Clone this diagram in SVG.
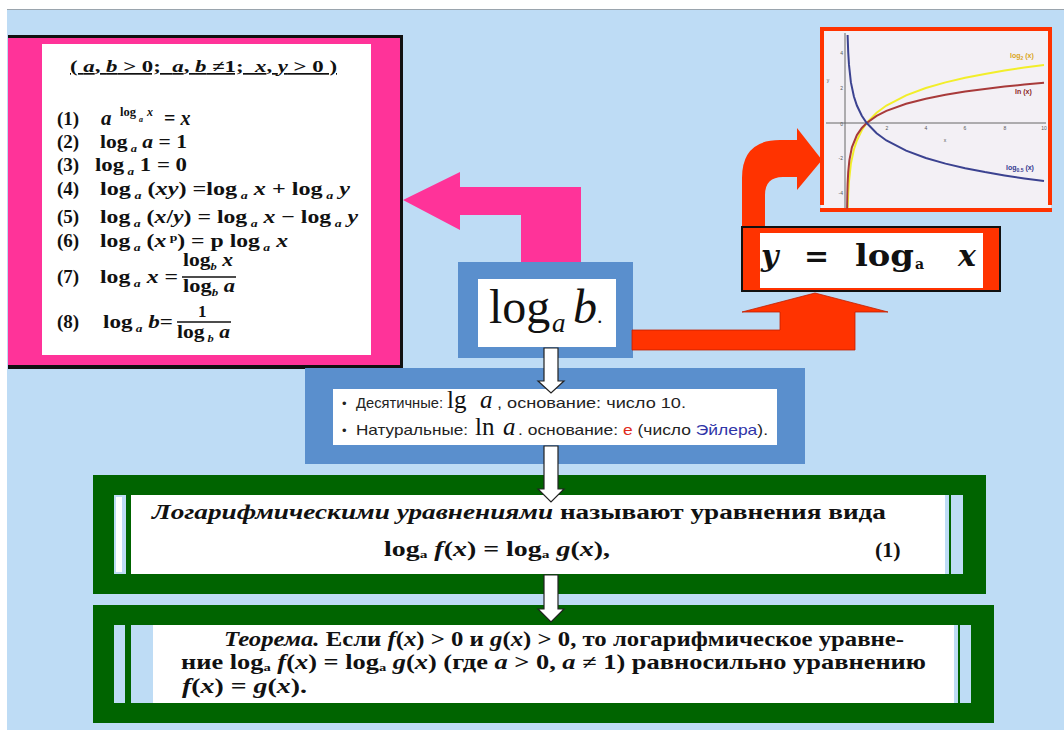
<svg xmlns="http://www.w3.org/2000/svg" width="1064" height="730" viewBox="0 0 1064 730">
<defs>
<style>
.f{font-family:"Liberation Serif","Times New Roman",serif;font-weight:bold;font-size:19px;fill:#111}
.i{font-style:italic}
.s{font-size:11px}
.sans{font-family:"Liberation Sans",Arial,sans-serif;font-size:15px;fill:#222}
.ser{font-family:"Liberation Serif","Times New Roman",serif;fill:#111}
.g{font-family:"Liberation Serif","Times New Roman",serif;font-weight:bold;font-size:20px;fill:#111}
.yl{font-family:"DejaVu Serif","Liberation Serif",serif;font-weight:bold;font-size:30px;fill:#111}
.wa{fill:#fff;stroke:#222;stroke-width:1.2}
.tick{font-family:"Liberation Sans",Arial,sans-serif;font-size:5px;fill:#555}
.lab{font-family:"Liberation Sans",Arial,sans-serif;font-size:7px;font-weight:bold}
.curve{fill:none;stroke-width:2}
</style>
</defs>
<rect width="1064" height="730" fill="#bedcf5"/>
<rect width="1064" height="9" fill="#fff"/>
<rect x="0" y="9" width="7" height="721" fill="#fff"/>
<line x1="7" y1="9.5" x2="1064" y2="9.5" stroke="#9aa4ad" stroke-width="1"/>

<g id="formulas">
<rect x="8" y="35" width="395" height="334" fill="#111"/>
<rect x="8" y="38" width="392" height="327" fill="#ff3399"/>
<rect x="42" y="44" width="329" height="311" fill="#fff"/>
<text class="f" x="70" y="72" style="font-size:17px" textLength="267" lengthAdjust="spacingAndGlyphs" text-decoration="underline">( <tspan class="i">a</tspan>, <tspan class="i">b</tspan> &gt; 0;&#160; <tspan class="i">a</tspan>, <tspan class="i">b</tspan> ≠1;&#160; <tspan class="i">x</tspan>, <tspan class="i">y</tspan> &gt; 0 )</text>
<text class="f" x="57" y="125">(1)</text>
<text class="f i" x="101" y="125" style="font-size:21px">a</text>
<text class="f" x="120" y="116" style="font-size:12px" textLength="16" lengthAdjust="spacingAndGlyphs">log</text>
<text class="f i" x="139" y="122" style="font-size:8px">a</text>
<text class="f i" x="147" y="116" style="font-size:12px">x</text>
<text class="f" x="164" y="125" style="font-size:20px">= <tspan class="i">x</tspan></text>

<text class="f" x="57" y="148">(2)</text>
<text class="f" x="100" y="148" textLength="87" lengthAdjust="spacingAndGlyphs">log<tspan class="s i" dy="4"> a</tspan><tspan class="i" dy="-4"> a</tspan> = 1</text>

<text class="f" x="57" y="171">(3)</text>
<text class="f" x="95" y="171" textLength="92" lengthAdjust="spacingAndGlyphs">log<tspan class="s i" dy="4"> a</tspan><tspan dy="-4"> 1 = 0</tspan></text>

<text class="f" x="57" y="195">(4)</text>
<text class="f" x="100" y="195" textLength="250" lengthAdjust="spacingAndGlyphs">log<tspan class="s i" dy="4"> a</tspan><tspan dy="-4"> (</tspan><tspan class="i">xy</tspan>) =log<tspan class="s i" dy="4"> a</tspan><tspan class="i" dy="-4"> x</tspan> + log<tspan class="s i" dy="4"> a</tspan><tspan class="i" dy="-4"> y</tspan></text>

<text class="f" x="57" y="223">(5)</text>
<text class="f" x="100" y="223" textLength="258" lengthAdjust="spacingAndGlyphs">log<tspan class="s i" dy="4"> a</tspan><tspan dy="-4"> (</tspan><tspan class="i">x</tspan>/<tspan class="i">y</tspan>) = log<tspan class="s i" dy="4"> a</tspan><tspan class="i" dy="-4"> x</tspan> − log<tspan class="s i" dy="4"> a</tspan><tspan class="i" dy="-4"> y</tspan></text>

<text class="f" x="57" y="247">(6)</text>
<text class="f" x="100" y="247" textLength="188" lengthAdjust="spacingAndGlyphs">log<tspan class="s i" dy="4"> a</tspan><tspan dy="-4"> (</tspan><tspan class="i">x</tspan><tspan class="s" dy="-6"> p</tspan><tspan dy="6">) = p log</tspan><tspan class="s i" dy="4"> a</tspan><tspan class="i" dy="-4"> x</tspan></text>

<text class="f" x="57" y="283">(7)</text>
<text class="f" x="100" y="283" textLength="78" lengthAdjust="spacingAndGlyphs">log<tspan class="s i" dy="4"> a</tspan><tspan class="i" dy="-4"> x</tspan> =</text>
<text class="f" x="183" y="266" textLength="50" lengthAdjust="spacingAndGlyphs">log<tspan class="s i" dy="4">b</tspan><tspan class="i" dy="-4"> x</tspan></text>
<line x1="182" y1="277" x2="236" y2="277" stroke="#111" stroke-width="1.5"/>
<text class="f" x="183" y="292" textLength="52" lengthAdjust="spacingAndGlyphs">log<tspan class="s i" dy="4">b</tspan><tspan class="i" dy="-4"> a</tspan></text>

<text class="f" x="57" y="328">(8)</text>
<text class="f" x="103" y="328" textLength="70" lengthAdjust="spacingAndGlyphs">log<tspan class="s i" dy="4"> a</tspan><tspan class="i" dy="-4"> b</tspan>=</text>
<text class="f" x="198" y="317" style="font-size:17px">1</text>
<line x1="177" y1="322" x2="231" y2="322" stroke="#111" stroke-width="1.5"/>
<text class="f" x="177" y="338" textLength="53" lengthAdjust="spacingAndGlyphs">log<tspan class="s i" dy="4"> b</tspan><tspan class="i" dy="-4"> a</tspan></text>
</g>

<g id="graph">
<rect x="821" y="28" width="230" height="182" fill="#f3f0f5"/>
<path d="M822,205 V29 H1050 V205" fill="none" stroke="#ff3300" stroke-width="4"/>
<line x1="820" y1="210" x2="1052" y2="210" stroke="#ff3300" stroke-width="4"/>
<line x1="826" y1="123" x2="1046" y2="123" stroke="#666" stroke-width="1"/>
<line x1="845" y1="33" x2="845" y2="208" stroke="#666" stroke-width="1"/>
<polyline class="curve" stroke="#f2ee2a" points="847.7,207.7 848.2,194 849,181.1 850.9,163.6 853.9,149.5 856.9,140.5 861.8,130.3 866.7,123 876.6,112.8 886.4,105.5 906.1,95.3 925.8,88 945.5,82.4 965.2,77.8 984.9,73.9 1004.6,70.5 1024.3,67.5 1044,64.9"/>
<polyline class="curve" stroke="#a83a3a" points="847.1,208.6 847.3,196.5 847.6,184.3 848.2,172.2 849.4,160.1 851.9,147.3 856.9,135.1 861.8,128 866.7,123 876.6,115.9 886.4,110.9 906.1,103.8 925.8,98.7 945.5,94.8 965.2,91.6 984.9,88.9 1004.6,86.6 1024.3,84.5 1044,82.7"/>
<polyline class="curve" stroke="#3b4290" points="847.6,35 847.7,38.3 848.2,52 849,64.9 850.9,82.4 853.9,96.5 856.9,105.5 861.8,115.7 866.7,123 876.6,133.2 886.4,140.5 906.1,150.7 925.8,158 945.5,163.6 965.2,168.2 984.9,172.1 1004.6,175.5 1024.3,178.5 1044,181.1"/>
<text class="tick" x="887" y="130" text-anchor="middle">2</text>
<text class="tick" x="926" y="130" text-anchor="middle">4</text>
<text class="tick" x="965" y="130" text-anchor="middle">6</text>
<text class="tick" x="1005" y="130" text-anchor="middle">8</text>
<text class="tick" x="1044" y="130" text-anchor="middle">10</text>
<text class="tick" x="843" y="55" text-anchor="end">4</text>
<text class="tick" x="843" y="90" text-anchor="end">2</text>
<text class="tick" x="843" y="126" text-anchor="end">0</text>
<text class="tick" x="843" y="160" text-anchor="end">-2</text>
<text class="tick" x="843" y="195" text-anchor="end">-4</text>
<text class="tick" x="828" y="82" text-anchor="middle">y</text>
<text class="tick" x="945" y="142" text-anchor="middle">x</text>
<text class="lab" x="1010" y="58" fill="#d9a51a">log<tspan font-size="5" dy="1.5">2</tspan><tspan dy="-1.5"> (x)</tspan></text>
<text class="lab" x="1015" y="94" fill="#8b1f1f">ln (x)</text>
<text class="lab" x="1006" y="170" fill="#34388f">log<tspan font-size="5" dy="1.5">0.5</tspan><tspan dy="-1.5"> (x)</tspan></text>
</g>

<g id="ylog">
<rect x="741" y="226" width="260" height="66" fill="#111"/>
<rect x="743" y="228" width="256" height="62" fill="#ff3300"/>
<rect x="760" y="233" width="223" height="55" fill="#fff"/>
<text class="yl i" x="761" y="266">y</text>
<text class="yl" x="804" y="266">=</text>
<text class="yl" x="855" y="266" textLength="59" lengthAdjust="spacingAndGlyphs">log</text>
<text class="yl" x="915" y="269" style="font-size:14px">a</text>
<text class="yl i" x="958" y="266">x</text>
</g>

<g id="logab">
<rect x="458" y="262" width="175" height="96" fill="#5a8fcd"/>
<rect x="478" y="279" width="138" height="68" fill="#fff"/>
<text class="ser" y="323" style="font-size:48px"><tspan x="489">log</tspan><tspan x="552" dy="9" font-size="27" font-style="italic">a</tspan><tspan x="573" dy="-9" font-style="italic">b</tspan><tspan x="597" font-size="22">.</tspan></text>
</g>

<g id="notes">
<rect x="305" y="368" width="500" height="96" fill="#5a8fcd"/>
<rect x="333" y="389" width="444" height="56" fill="#fff"/>
<text class="sans" x="342" y="408" style="font-size:13px">•</text>
<text class="sans" x="356" y="408" textLength="87" lengthAdjust="spacingAndGlyphs">Десятичные:</text>
<text class="ser" x="447" y="408" style="font-size:25px">lg</text>
<text class="ser i" x="480" y="408" style="font-size:25px">a</text>
<text class="sans" x="497" y="408" textLength="189" lengthAdjust="spacingAndGlyphs">, основание: число 10.</text>
<text class="sans" x="342" y="435" style="font-size:13px">•</text>
<text class="sans" x="356" y="435" textLength="112" lengthAdjust="spacingAndGlyphs">Натуральные:</text>
<text class="ser" x="475" y="435" style="font-size:25px">ln</text>
<text class="ser i" x="503" y="435" style="font-size:25px">a</text>
<text class="sans" x="518" y="435" textLength="250" lengthAdjust="spacingAndGlyphs">. основание: <tspan fill="#e02a1a">e</tspan> (число <tspan fill="#2f35a8">Эйлера</tspan>).</text>
</g>

<g id="definition">
<rect x="93" y="475" width="893" height="119" fill="#006400"/>
<rect x="114" y="495" width="12" height="79" fill="#bedcf5"/>
<rect x="116" y="497" width="6" height="75" fill="#fff"/>
<rect x="131" y="495" width="814" height="79" fill="#fff"/>
<rect x="945" y="495" width="4" height="79" fill="#bedcf5"/>
<rect x="951" y="495" width="12" height="79" fill="#bedcf5"/>
<text class="g" x="152" y="519" textLength="734" lengthAdjust="spacingAndGlyphs"><tspan class="i">Логарифмическими уравнениями</tspan> называют уравнения вида</text>
<text class="g" x="384" y="556" textLength="226" lengthAdjust="spacingAndGlyphs">log<tspan font-size="11" dy="2">a</tspan><tspan class="i" dy="-2"> f</tspan>(<tspan class="i">x</tspan>) = log<tspan font-size="11" dy="2">a</tspan><tspan class="i" dy="-2"> g</tspan>(<tspan class="i">x</tspan>),</text>
<text class="g" x="875" y="557" style="font-size:22px">(1)</text>
</g>

<g id="theorem">
<rect x="93" y="605" width="901" height="118" fill="#006400"/>
<rect x="114" y="625" width="11" height="78" fill="#bedcf5"/>
<rect x="131" y="625" width="823" height="78" fill="#fff"/>
<rect x="131" y="625" width="22" height="78" fill="#bedcf5"/>
<rect x="954" y="625" width="4" height="78" fill="#bedcf5"/>
<rect x="960" y="625" width="11" height="78" fill="#bedcf5"/>
<text class="g" x="224" y="646" textLength="680" lengthAdjust="spacingAndGlyphs"><tspan class="i">Теорема.</tspan> Если <tspan class="i">f</tspan>(<tspan class="i">x</tspan>) &gt; 0 и <tspan class="i">g</tspan>(<tspan class="i">x</tspan>) &gt; 0, то логарифмическое уравне-</text>
<text class="g" x="181" y="669" textLength="745" lengthAdjust="spacingAndGlyphs">ние log<tspan font-size="11" dy="2">a</tspan><tspan class="i" dy="-2"> f</tspan>(<tspan class="i">x</tspan>) = log<tspan font-size="11" dy="2">a</tspan><tspan class="i" dy="-2"> g</tspan>(<tspan class="i">x</tspan>) (где <tspan class="i">a</tspan> &gt; 0, <tspan class="i">a</tspan> ≠ 1) равносильно уравнению</text>
<text class="g" x="182" y="693" textLength="125" lengthAdjust="spacingAndGlyphs"><tspan class="i">f</tspan>(<tspan class="i">x</tspan>) = <tspan class="i">g</tspan>(<tspan class="i">x</tspan>).</text>
</g>

<g id="connectors">
<path d="M403,200 L460,172 L460,187 L581,187 L581,262 L521,262 L521,215 L460,215 L460,230 Z" fill="#ff3399"/>
<path d="M632,330 L780,330 L780,312 L742,312 L815,293 L888,312 L855,312 L855,350 L632,350 Z" fill="#ff3300" stroke="#c02000" stroke-width="0.8"/>
<path d="M742,226 L742,178 Q742,140 780,140 L797,140 L797,128 L822,160 L797,190 L797,177 L783,177 Q765,177 765,195 L765,226 Z" fill="#ff3300"/>
<path class="wa" d="M544,348 L558,348 L558,381 L564,381 L551,393 L538,381 L544,381 Z"/>
<path class="wa" d="M544,446 L558,446 L558,489 L564,489 L551,502 L538,489 L544,489 Z"/>
<path class="wa" d="M544,575 L558,575 L558,609 L564,609 L551,622 L538,609 L544,609 Z"/>
</g>
</svg>
